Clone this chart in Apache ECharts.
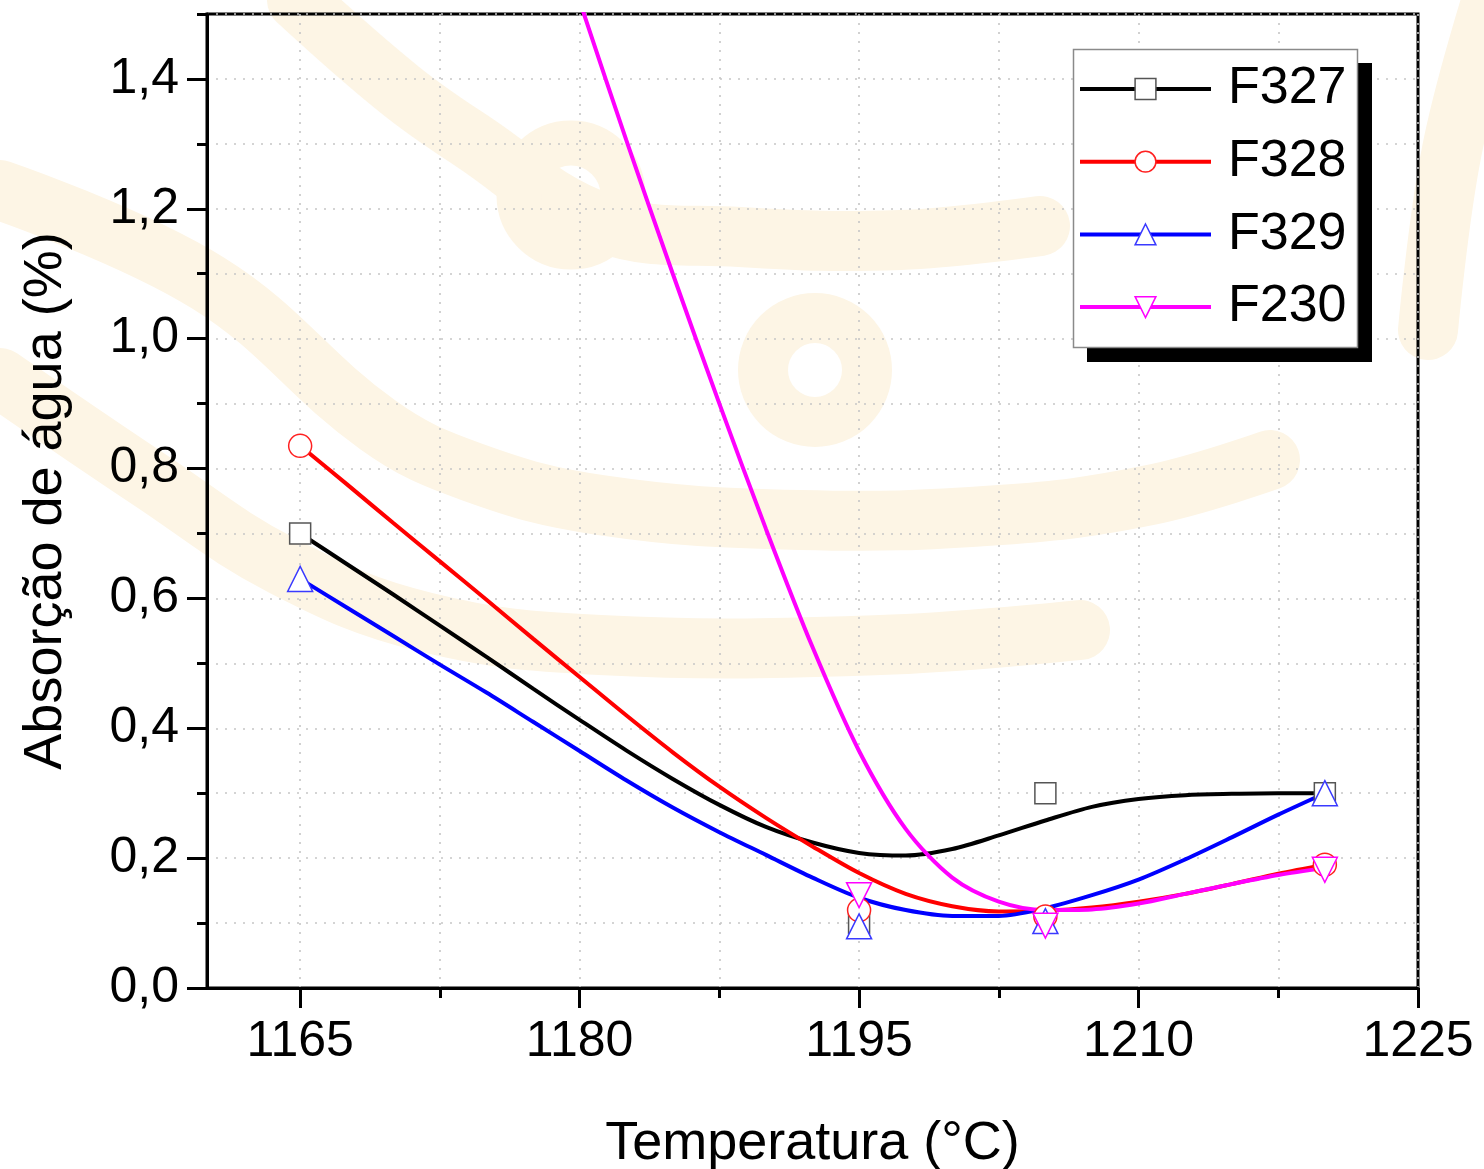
<!DOCTYPE html>
<html><head><meta charset="utf-8">
<script src="https://cdn.jsdelivr.net/npm/echarts@6/dist/echarts.min.js"></script>
<style>html,body{margin:0;padding:0;background:#fff}#c{width:1484px;height:1169px}</style>
</head><body><div id="c"></div>
<script>
// measured points
const temps = [1165, 1195, 1205, 1220];
const F327 = [0.70, 0.10, 0.30, 0.30];
const F328 = [0.835, 0.12, 0.11, 0.19];
const F329 = [0.63, 0.095, 0.103, 0.30];
const F230 = [null, 0.143, 0.096, 0.182];
// smoothed curves
const curveT = [1165, 1167.5, 1170, 1172.5, 1175, 1177.5, 1180, 1182.5, 1185, 1187.5, 1190, 1192.5, 1195, 1197.5, 1200, 1202.5, 1205, 1207.5, 1210, 1212.5, 1215, 1217.5, 1220];
const curveF327 = [0.70, 0.653, 0.606, 0.558, 0.510, 0.461, 0.413, 0.366, 0.322, 0.282, 0.248, 0.224, 0.208, 0.204, 0.214, 0.235, 0.258, 0.279, 0.291, 0.297, 0.299, 0.300, 0.300];
const curveF328 = [0.835, 0.776, 0.716, 0.657, 0.598, 0.538, 0.479, 0.420, 0.363, 0.310, 0.262, 0.218, 0.177, 0.145, 0.126, 0.118, 0.119, 0.124, 0.133, 0.145, 0.160, 0.176, 0.190];
const curveF329 = [0.63, 0.586, 0.542, 0.498, 0.455, 0.410, 0.365, 0.320, 0.278, 0.240, 0.205, 0.170, 0.139, 0.120, 0.111, 0.111, 0.123, 0.143, 0.167, 0.198, 0.232, 0.267, 0.30];
const curveT230 = [1180, 1182.5, 1185, 1187.5, 1190, 1192.5, 1195, 1197.5, 1200, 1202.5, 1205, 1207.5, 1210, 1212.5, 1215, 1217.5, 1220];
const curveF230 = [1.52, 1.306, 1.10, 0.90, 0.707, 0.525, 0.365, 0.245, 0.17, 0.133, 0.12, 0.121, 0.13, 0.145, 0.16, 0.174, 0.185];
// ticks
const xMajorTicks = [1165, 1180, 1195, 1210, 1225];
const xMinorTicks = [1172.5, 1187.5, 1202.5, 1217.5];
const yMajorTicks = [0, 0.2, 0.4, 0.6, 0.8, 1.0, 1.2, 1.4];
const yMinorTicks = [0.1, 0.3, 0.5, 0.7, 0.9, 1.1, 1.3, 1.5];
const names = ['F327', 'F328', 'F329', 'F230'];

const FONT = "'Liberation Sans', Arial, sans-serif";
const downTri = 'path://M0,0L20,0L10,20Z';
const styles = {
  F327: {line: '#000000', border: '#555555', symbol: 'rect', size: 21},
  F328: {line: '#ff0000', border: '#ff2020', symbol: 'circle', size: 23},
  F329: {line: '#0000ff', border: '#3a3aff', symbol: 'triangle', size: 25},
  F230: {line: '#ff00ff', border: '#ff00ff', symbol: downTri, size: 25}
};
const pts = {F327, F328, F329, F230};
const curves = {
  F327: curveT.map((t, i) => [t, curveF327[i]]),
  F328: curveT.map((t, i) => [t, curveF328[i]]),
  F329: curveT.map((t, i) => [t, curveF329[i]]),
  F230: curveT230.map((t, i) => [t, curveF230[i]])
};

const gridLine = {show: true, lineStyle: {color: '#c6c6c6', type: [2, 7], width: 1.6}};
const series = [];
names.forEach((n, k) => {
  const s = styles[n];
  series.push({
    name: n, type: 'line', data: curves[n], smooth: 0.3, showSymbol: false,
    symbol: s.symbol, symbolSize: s.size, z: 2 + k * 0.01,
    lineStyle: {color: s.line, width: 4},
    itemStyle: {color: '#ffffff', borderColor: s.border, borderWidth: 1.5},
    emphasis: {disabled: true}, silent: true
  });
});
names.forEach((n, k) => {
  const s = styles[n];
  const data = temps.map((t, i) => [t, pts[n][i]]).filter(d => d[1] !== null);
  series.push({
    name: n + ' pontos', type: 'scatter', data, symbol: s.symbol, symbolSize: s.size, z: 5 + k,
    itemStyle: {color: '#ffffff', borderColor: s.border, borderWidth: 1.5, opacity: 1},
    emphasis: {disabled: true}, silent: true
  });
});

// faint background watermark (decoration)
const WM = '#fdf5e5';
const wmBands = [
  [[297, 0], [400, 90], [472, 141], [600, 222], [740, 237], [900, 240], [1040, 226]],
  [[0, 190], [208, 283], [378, 425], [472, 472], [600, 505], [800, 520], [1000, 515], [1150, 495], [1270, 460]],
  [[0, 378], [150, 480], [283, 566], [425, 622], [600, 645], [880, 645], [1080, 630]],
  [[1495, -10], [1452, 150], [1428, 330]]
];
const graphics = [];
wmBands.forEach(b => graphics.push({type: 'polyline', z: -10, silent: true, shape: {points: b, smooth: 0.4},
  style: {stroke: WM, lineWidth: 60, fill: null, lineCap: 'round', lineJoin: 'round'}}));
graphics.push({type: 'circle', z: -10, silent: true, shape: {cx: 571, cy: 195, r: 52}, style: {stroke: WM, lineWidth: 45, fill: null}});
graphics.push({type: 'circle', z: -10, silent: true, shape: {cx: 815, cy: 370, r: 52}, style: {stroke: WM, lineWidth: 50, fill: null}});
// legend frame with hard shadow
graphics.push({type: 'rect', z: 3, silent: true, shape: {x: 1087, y: 63, width: 285, height: 299}, style: {fill: '#000'}});
graphics.push({type: 'rect', z: 3, silent: true, shape: {x: 1073.5, y: 49.5, width: 284, height: 298}, style: {fill: '#fff', stroke: '#8a8a8a', lineWidth: 1.5}});

const chart = echarts.init(document.getElementById('c'), null, {renderer: 'canvas'});
chart.setOption({
  animation: false,
  backgroundColor: '#ffffff',
  graphic: graphics,
  grid: {left: 207, right: 66, top: 14, bottom: 181, outerBoundsMode: 'none', containLabel: false,
         show: true, borderColor: '#000', borderWidth: 3, backgroundColor: 'transparent'},
  xAxis: [
    {type: 'value', min: 1160, max: 1225, position: 'bottom',
     axisLine: {show: true, lineStyle: {color: '#000', width: 3}},
     axisTick: {show: true, customValues: xMajorTicks, length: 20, lineStyle: {color: '#000', width: 3}},
     axisLabel: {customValues: xMajorTicks, fontSize: 50, color: '#000', fontFamily: FONT, margin: 29,
                 formatter: v => String(v)},
     splitLine: gridLine,
     name: 'Temperatura (°C)', nameLocation: 'middle', nameGap: 129,
     nameTextStyle: {fontSize: 54, color: '#000', fontFamily: FONT}},
    {type: 'value', min: 1160, max: 1225, position: 'bottom',
     axisLine: {show: false},
     axisTick: {show: true, customValues: xMinorTicks, length: 10, lineStyle: {color: '#000', width: 3}},
     axisLabel: {show: false},
     splitLine: gridLine}
  ],
  yAxis: [
    {type: 'value', min: 0, max: 1.5, position: 'left',
     axisLine: {show: true, lineStyle: {color: '#000', width: 3}},
     axisTick: {show: true, customValues: yMajorTicks, length: 20, lineStyle: {color: '#000', width: 3}},
     axisLabel: {customValues: yMajorTicks, fontSize: 50, color: '#000', fontFamily: FONT, margin: 28,
                 formatter: v => v.toFixed(1).replace('.', ',')},
     splitLine: gridLine,
     name: 'Absorção de água (%)', nameLocation: 'middle', nameGap: 134,
     nameTextStyle: {fontSize: 54, color: '#000', fontFamily: FONT}},
    {type: 'value', min: 0, max: 1.5, position: 'left',
     axisLine: {show: false},
     axisTick: {show: true, customValues: yMinorTicks, length: 10, lineStyle: {color: '#000', width: 3}},
     axisLabel: {show: false},
     splitLine: gridLine}
  ],
  legend: {
    orient: 'vertical', left: 1073, top: 49, itemWidth: 131, itemHeight: 26, itemGap: 20.7,
    padding: [14, 10, 14, 5], z: 6,
    selectedMode: false,
    textStyle: {fontSize: 52, fontFamily: FONT, color: '#000', lineHeight: 52, padding: [0, 0, 0, 12]},
    data: names.map(n => ({name: n, itemStyle: {color: '#ffffff', borderColor: styles[n].border, borderWidth: 1.5},
                           lineStyle: {color: styles[n].line, width: 4}}))
  },
  series
});
</script></body></html>
